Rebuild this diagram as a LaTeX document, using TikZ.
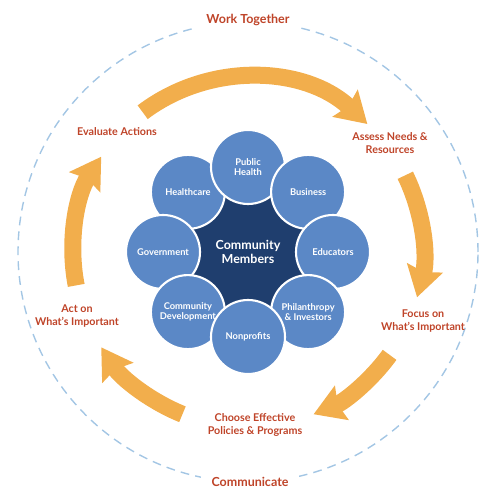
\documentclass[tikz,border=0pt]{standalone}
\usepackage{fontspec}
\setmainfont{Lato}
\usetikzlibrary{arrows.meta,shapes.geometric}
\definecolor{navyblue}{HTML}{1F3E6E}
\definecolor{memberblue}{HTML}{5B88C6}
\definecolor{flowgold}{HTML}{F2AE4C}
\definecolor{rustred}{HTML}{BF4429}
\definecolor{ringblue}{HTML}{A3C6E4}
\begin{document}
\begin{tikzpicture}[
    member/.style={circle, fill=memberblue, draw=white, line width=1.2pt, minimum size=1.48cm, inner sep=0pt, align=center, text=white, font=\fontsize{5.3}{5.8}\selectfont\bfseries},
    hub/.style={star, star points=8, star point ratio=1.23, shape border rotate=22.5, minimum size=2.56cm, inner sep=0pt, fill=navyblue, align=center, text=white, font=\fontsize{7.1}{8}\selectfont\bfseries},
    turn/.style={draw=flowgold, line width=0.34cm, -{Stealth[length=0.6cm, width=0.72cm, inset=0.08cm]}},
    ring/.style={draw=ringblue, line width=0.8pt, dash pattern=on 5pt off 3.5pt},
    phase/.style={text=rustred, align=center, font=\fontsize{6.1}{7}\selectfont\bfseries},
    motto/.style={fill=white, inner xsep=0.22cm, text=rustred, font=\fontsize{7.1}{8}\selectfont\bfseries}
]
    \useasboundingbox (-4.96,-4.96) rectangle (4.94,5.04);
    \draw[ring] (0,0) circle[radius=4.6];
    \node[motto] (together) at (0,4.64) {Work Together};
    \node[motto] (communicate) at (0.04,-4.6) {Communicate};
    \foreach \s/\e in {127/47, 26/-15, -36/-68, -112/-147, 191/147} {
        \draw[turn] (\s:3.5) arc[start angle=\s, end angle=\e, radius=3.5];
    }
    \node[phase] (evaluate) at (-2.62,2.4) {Evaluate Actions};
    \node[phase] (assess) at (2.84,2.18) {Assess Needs \&\\Resources};
    \node[phase] (focus) at (3.5,-1.38) {Focus on\\What’s Important};
    \node[phase] (choose) at (0.14,-3.46) {Choose Effective\\Policies \& Programs};
    \node[phase] (act) at (-3.42,-1.28) {Act on\\What’s Important};
    \node[hub] (members) at (0,0) {Community\\Members};
    \foreach \a/\txt [count=\i] in {135/Healthcare, 90/Public\\Health, 45/Business, 0/Educators, 180/Government, -135/Community\\Development, -45/Philanthropy\\\& Investors, -90/Nonprofits} {
        \node[member] (m-\i) at (\a:1.7) {\txt};
    }
\end{tikzpicture}
\end{document}
